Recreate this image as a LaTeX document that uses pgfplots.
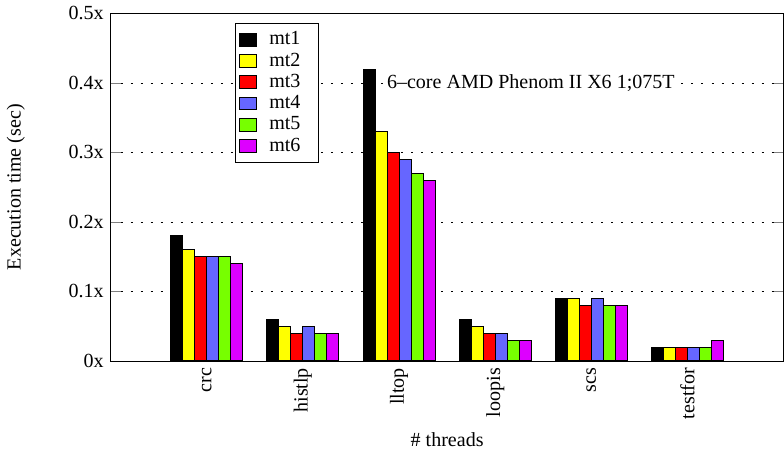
\documentclass[border=0pt]{standalone}
\usepackage{fontspec}
\setmainfont{Liberation Serif}
\usepackage{pgfplots}
\pgfplotsset{compat=1.18}

\definecolor{mtA}{HTML}{000000}
\definecolor{mtB}{HTML}{FFFF00}
\definecolor{mtC}{HTML}{FF0000}
\definecolor{mtD}{HTML}{6666FF}
\definecolor{mtE}{HTML}{77FF00}
\definecolor{mtF}{HTML}{DD00FF}

\begin{document}
\begin{tikzpicture}[font=\fontsize{10}{12}\selectfont]
\begin{axis}[
    scale only axis, width=336pt, height=173.5pt,
    ybar=0pt, bar width=0.125,
    xmin=0, xmax=7, ymin=0, ymax=0.5,
    xtick={1,2,3,4,5,6},
    xticklabels={crc,histlp,lltop,loopis,scs,testfor},
    x tick label style={rotate=90, anchor=east},
    xtick style={draw=none},
    ytick={0,0.1,0.2,0.3,0.4,0.5},
    yticklabels={0x,0.1x,0.2x,0.3x,0.4x,0.5x},
    tick align=inside, major tick length=5pt,
    ymajorgrids=true,
    grid style={black, line width=0.4pt, dash pattern=on 1pt off 4pt},
    xlabel={\# threads},
    xlabel style={at={(axis description cs:0.5,-0.225)}, anchor=center},
    ylabel={Execution time (sec)},
    ylabel style={at={(axis description cs:-0.141,0.5)}, anchor=center},
    every axis plot post/.append style={draw=black, line width=0.5pt,
        legend image code/.code={\draw[##1,draw=black,line width=0.5pt] (0pt,-3.2pt) rectangle (8.5pt,3.2pt);}},
    legend style={at={(0.1845,0.972)}, anchor=north west, draw=black, line width=0.5pt,
        fill=white, inner xsep=2pt, inner ysep=2pt, row sep=-1.5pt, column sep=4pt,
        cells={anchor=west}},
    legend cell align=left,
]
% mt1
\addplot[fill=mtA] coordinates {(1,0.18) (2,0.06) (3,0.42) (4,0.06) (5,0.09) (6,0.02)};
% mt2
\addplot[fill=mtB] coordinates {(1,0.16) (2,0.05) (3,0.33) (4,0.05) (5,0.09) (6,0.02)};
% mt3
\addplot[fill=mtC] coordinates {(1,0.15) (2,0.04) (3,0.30) (4,0.04) (5,0.08) (6,0.02)};
% mt4
\addplot[fill=mtD] coordinates {(1,0.15) (2,0.05) (3,0.29) (4,0.04) (5,0.09) (6,0.02)};
% mt5
\addplot[fill=mtE] coordinates {(1,0.15) (2,0.04) (3,0.27) (4,0.03) (5,0.08) (6,0.02)};
% mt6
\addplot[fill=mtF] coordinates {(1,0.14) (2,0.04) (3,0.26) (4,0.03) (5,0.08) (6,0.03)};
\legend{mt1\hspace*{5pt},mt2\hspace*{5pt},mt3\hspace*{5pt},mt4\hspace*{5pt},mt5\hspace*{5pt},mt6\hspace*{5pt}}
\node[anchor=west, fill=white, inner sep=1pt] at (axis cs:2.85,0.4) {6--core AMD Phenom II X6 1;075T};
\end{axis}
\end{tikzpicture}
\end{document}
